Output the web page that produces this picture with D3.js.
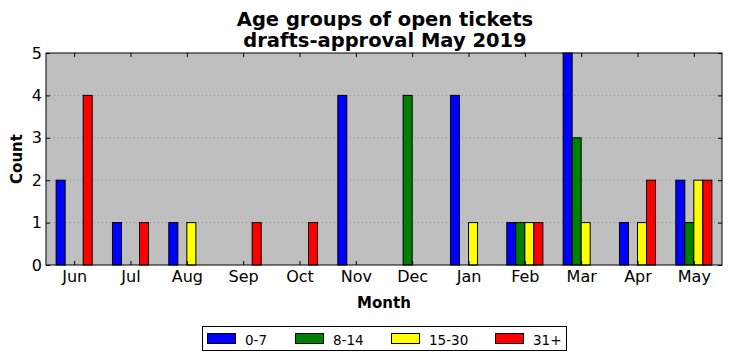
<!DOCTYPE html>
<html><head><meta charset="utf-8">
<script src="https://cdn.jsdelivr.net/npm/d3@7"></script>
<style>body{margin:0;background:#fff;} svg{display:block;font-family:"DejaVu Sans",sans-serif;}</style>
</head><body>
<svg id="c" width="732" height="361"></svg>
<script>
const months = ["Jun","Jul","Aug","Sep","Oct","Nov","Dec","Jan","Feb","Mar","Apr","May"];
const seriesNames = ["0-7","8-14","15-30","31+"];
const seriesColors = ["#0000ff","#008000","#ffff00","#ff0000"];
const s0_7   = [2,1,1,0,0,4,0,4,1,5,1,2];
const s8_14  = [0,0,0,0,0,0,4,0,1,3,0,1];
const s15_30 = [0,0,1,0,0,0,0,1,1,1,1,2];
const s31p   = [4,1,0,1,1,0,0,0,1,0,2,2];
const yTicks = [0,1,2,3,4,5];
const series = [s0_7, s8_14, s15_30, s31p];

const svg = d3.select("#c");
const L=46, R=722, T=53, B=265;
const x = d3.scaleLinear().domain([-0.5, 11.5]).range([L, R]);
const y = d3.scaleLinear().domain([0,5]).range([B, T]);
const bw = 0.16, offs = [-0.32,-0.16,0,0.16];

svg.append("rect").attr("x",L).attr("y",T).attr("width",R-L).attr("height",B-T).attr("fill","#bfbfbf");

// grid
svg.append("g").selectAll("line").data(yTicks.filter(v=>v>0&&v<5)).join("line")
  .attr("x1",L).attr("x2",R).attr("y1",d=>y(d)).attr("y2",d=>y(d))
  .attr("stroke","#808080").attr("stroke-width",0.8).attr("stroke-dasharray","1,3");

// bars
series.forEach((arr,si)=>{
  svg.append("g").selectAll("rect").data(arr).join("rect")
    .attr("x",(d,i)=>x(i+offs[si]))
    .attr("width",(d,i)=>x(i+offs[si]+bw)-x(i+offs[si]))
    .attr("y",d=>y(d)).attr("height",d=>y(0)-y(d))
    .attr("fill",seriesColors[si]).attr("stroke","#000").attr("stroke-width",1);
});

// frame
svg.append("rect").attr("x",L).attr("y",T).attr("width",R-L).attr("height",B-T).attr("fill","none").attr("stroke","#000").attr("stroke-width",1);

// axes
const xAxis = d3.axisBottom(x).tickValues(d3.range(12)).tickFormat(i=>months[i]).tickSizeInner(-4).tickSizeOuter(0).tickPadding(6);
const gx = svg.append("g").attr("transform",`translate(0,${B})`).call(xAxis);
gx.select(".domain").remove();
gx.selectAll("text").attr("font-size",16).attr("fill","#000").attr("font-family","DejaVu Sans");
const xTop = d3.axisTop(x).tickValues(d3.range(12)).tickFormat("").tickSizeInner(-4).tickSizeOuter(0);
svg.append("g").attr("transform",`translate(0,${T})`).call(xTop).select(".domain").remove();

const yAxis = d3.axisLeft(y).tickValues(yTicks).tickFormat(d3.format("d")).tickSizeInner(-4).tickSizeOuter(0).tickPadding(4);
const gy = svg.append("g").attr("transform",`translate(${L},0)`).call(yAxis);
gy.select(".domain").remove();
gy.selectAll("text").attr("font-size",16).attr("fill","#000").attr("font-family","DejaVu Sans");
const yR = d3.axisRight(y).tickValues(yTicks).tickFormat("").tickSizeInner(-4).tickSizeOuter(0);
svg.append("g").attr("transform",`translate(${R},0)`).call(yR).select(".domain").remove();

// titles
svg.append("text").attr("x",385).attr("y",26).attr("text-anchor","middle").attr("font-size",19.5).attr("font-weight","bold").text("Age groups of open tickets");
svg.append("text").attr("x",385).attr("y",47).attr("text-anchor","middle").attr("font-size",19.5).attr("font-weight","bold").text("drafts-approval May 2019");
svg.append("text").attr("x",384).attr("y",308).attr("text-anchor","middle").attr("font-size",15).attr("font-weight","bold").text("Month");
svg.append("text").attr("transform","translate(22,159) rotate(-90)").attr("text-anchor","middle").attr("font-size",15).attr("font-weight","bold").text("Count");

// legend
const lg = svg.append("g");
lg.append("rect").attr("x",202.5).attr("y",326.5).attr("width",364).attr("height",24).attr("fill","#fff").attr("stroke","#000");
const lx = [207,295,391,495];
seriesNames.forEach((n,i)=>{
  lg.append("rect").attr("x",lx[i]+0.5).attr("y",333.5).attr("width",28).attr("height",10).attr("fill",seriesColors[i]).attr("stroke","#000");
  lg.append("text").attr("x",lx[i]+38).attr("y",345).attr("font-size",13.5).text(n);
});
</script>
</body></html>
